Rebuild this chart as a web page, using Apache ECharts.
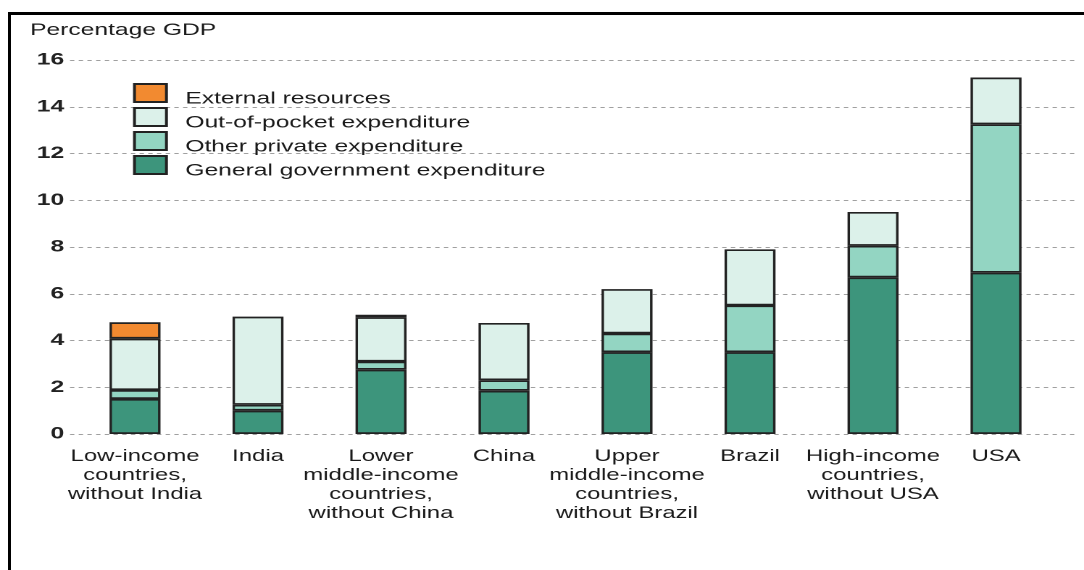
<!DOCTYPE html>
<html>
<head>
    <meta charset="utf-8">
    <title>Health expenditure</title>
    <script src="https://cdn.jsdelivr.net/npm/echarts@6/dist/echarts.min.js"></script>
    <style type="text/css">
        * { margin: 0; padding: 0; }
        body { width: 1084px; height: 570px; background: #fff; overflow: hidden; position: relative; }
        #frame {
            position: absolute; left: 8px; top: 12px; right: 0; bottom: 0;
            border-left: 3px solid #000; border-top: 3px solid #000;
        }
        /* the source picture is stretched sideways, so the chart is drawn narrow and widened */
        #main {
            position: absolute; left: 0; top: 0; width: 748px; height: 570px;
            transform: scaleX(1.4492); transform-origin: 0 0;
        }
    </style>
</head>
<body>
<div id="frame"></div>
<div id="main"></div>
<script type="text/javascript">
    // data (% of GDP)
    var categories = [
        'Low-income\ncountries,\nwithout India',
        'India',
        'Lower\nmiddle-income\ncountries,\nwithout China',
        'China',
        'Upper\nmiddle-income\ncountries,\nwithout Brazil',
        'Brazil',
        'High-income\ncountries,\nwithout USA',
        'USA'
    ];
    var govExp      = [1.5, 1.0, 2.75, 1.85, 3.5, 3.5, 6.7, 6.9];
    var otherPriv   = [0.38, 0.25, 0.35, 0.45, 0.8, 2.0, 1.35, 6.35];
    var outOfPocket = [2.2, 3.77, 1.9, 2.45, 1.9, 2.4, 1.45, 2.0];
    var external    = [0.7, null, 0.1, null, null, null, null, null];
    var yTicks      = [0, 2, 4, 6, 8, 10, 12, 14, 16];

    var S = 1084 / 748;   // horizontal stretch
    var font = 'Liberation Sans';

    var myChart = echarts.init(document.getElementById('main'), null, { devicePixelRatio: 2 });

    function stackBar(name, data, color) {
        return {
            name: name,
            type: 'bar',
            stack: 'total',
            xAxisIndex: 1,
            yAxisIndex: 1,
            barWidth: 51 / S,
            itemStyle: { color: color, borderColor: '#222', borderWidth: 1.7 },
            data: data
        };
    }

    var option = {
        animation: false,
        title: {
            text: 'Percentage GDP',
            left: 30 / S,
            top: 22,
            padding: 0,
            textStyle: { fontFamily: font, fontSize: 17, fontWeight: 'normal', color: '#1a1a1a' }
        },
        legend: {
            orient: 'vertical',
            left: 133 / S,
            top: 78.5,
            padding: 0,
            itemWidth: 32 / S,
            itemHeight: 18,
            itemGap: -5,
            icon: 'rect',
            formatter: '{t|{name}}',
            textStyle: {
                fontFamily: font, fontSize: 17, color: '#1a1a1a',
                rich: {
                    t: {
                        fontFamily: font, fontSize: 17, color: '#1a1a1a',
                        lineHeight: 12, padding: [12, 0, 0, 8]
                    }
                }
            },
            data: ['External resources', 'Out-of-pocket expenditure',
                   'Other private expenditure', 'General government expenditure']
        },
        grid: [
            // grid 0 only carries the y labels and the dashed lines
            { left: 70 / S, right: 9 / S, top: 60, bottom: 136 },
            // grid 1 holds the bars
            { left: 73.5 / S, right: 26.5 / S, top: 60, bottom: 136 }
        ],
        xAxis: [
            { type: 'value', gridIndex: 0, show: false },
            {
                type: 'category',
                gridIndex: 1,
                data: categories,
                axisLine: { show: false },
                axisTick: { show: false },
                axisLabel: {
                    interval: 0,
                    margin: 13,
                    fontFamily: font,
                    fontSize: 16.5,
                    lineHeight: 19,
                    color: '#1a1a1a'
                }
            }
        ],
        yAxis: [
            {
                type: 'value',
                gridIndex: 0,
                min: yTicks[0],
                max: yTicks[yTicks.length - 1],
                interval: 2,
                axisLine: { show: false },
                axisTick: { show: false },
                axisLabel: { margin: 4, fontFamily: font, fontSize: 17, fontWeight: 'bold', color: '#222' },
                splitLine: { lineStyle: { color: '#a0a0a0', width: 1, type: [3, 3] } }
            },
            {
                type: 'value',
                gridIndex: 1,
                min: yTicks[0],
                max: yTicks[yTicks.length - 1],
                show: false,
                splitLine: { show: false }
            }
        ],
        series: [
            stackBar('General government expenditure', govExp, '#3d957c'),
            stackBar('Other private expenditure', otherPriv, '#93d5c2'),
            stackBar('Out-of-pocket expenditure', outOfPocket, '#dcf1ea'),
            stackBar('External resources', external, '#f28a30')
        ]
    };

    myChart.setOption(option);
</script>
</body>
</html>
